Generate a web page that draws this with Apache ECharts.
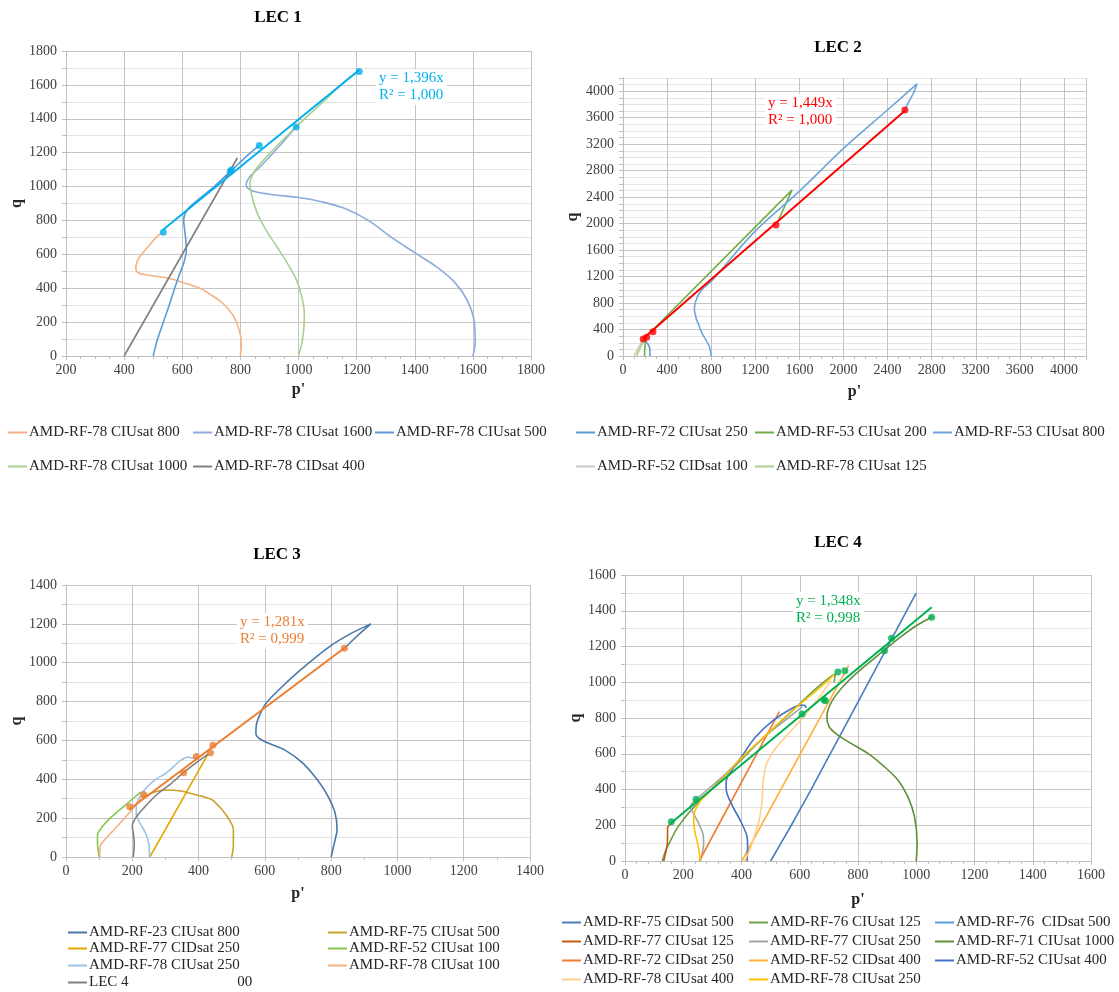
<!DOCTYPE html>
<html>
<head>
<meta charset="utf-8">
<script src="https://cdn.jsdelivr.net/npm/echarts@6/dist/echarts.min.js"></script>
<style>
html,body{margin:0;padding:0;background:#fff;width:1119px;height:992px;overflow:hidden}
.c{position:absolute;left:0;top:0;width:1119px;height:992px}
</style>
</head>
<body>
<div id="c1" class="c"></div>
<div id="c2" class="c"></div>
<div id="c3" class="c"></div>
<div id="c4" class="c"></div>
<script>
// ================= LEC 1 =================
const lec1Names = ['AMD-RF-78 CIUsat 800','AMD-RF-78 CIUsat 1600','AMD-RF-78 CIUsat 500','AMD-RF-78 CIUsat 1000','AMD-RF-78 CIDsat 400'];
const lec1_ciu800 = [[800,0],[803,80],[795,160],[775,240],[740,310],[700,360],[660,400],[610,430],[550,460],[490,475],[450,490],[440,520],[448,570],[463,606],[485,650],[513,705],[535,730]];
const lec1_ciu1600 = [[1600,0],[1608,80],[1605,200],[1580,330],[1540,430],[1480,520],[1400,610],[1320,700],[1240,800],[1160,870],[1080,910],[1000,935],[900,955],[840,975],[820,1010],[833,1059],[870,1120],[930,1230],[993,1354]];
const lec1_ciu500 = [[500,0],[515,100],[535,200],[555,300],[574,400],[590,480],[605,547],[614,626],[611,705],[605,803],[617,862],[660,930],[710,1000],[771,1098],[833,1197],[864,1242]];
const lec1_ciu1000 = [[1000,0],[1012,80],[1018,154],[1020,252],[1011,350],[993,449],[962,547],[925,646],[888,744],[858,843],[840,941],[833,1020],[845,1079],[870,1138],[913,1217],[981,1335],[1042,1433],[1104,1531],[1166,1630],[1202,1673]];
const lec1_cid400 = [[400,0],[790,1170]];
const lec1Peaks = [[535,730],[765,1089],[769,1098],[865,1242],[992,1352],[1209,1679]];
const lec1Trend = [[535,747],[1209,1688]];
const lec1Eq = 'y = 1,396x\nR² = 1,000';
const lec1XTicks = [200,400,600,800,1000,1200,1400,1600,1800];
const lec1YTicks = [0,200,400,600,800,1000,1200,1400,1600,1800];

// ================= LEC 2 =================
const lec2Names = ['AMD-RF-72 CIUsat 250','AMD-RF-53 CIUsat 200','AMD-RF-53 CIUsat 800','AMD-RF-52 CIDsat 100','AMD-RF-78 CIUsat 125'];
const lec2_72ciu250 = [[245,0],[244,80],[236,150],[215,205],[190,250]];
const lec2_53ciu200 = [[195,0],[197,100],[202,200],[210,290],[1534,2509],[1411,2055]];
const lec2_53ciu800 = [[800,0],[795,60],[782,150],[750,250],[721,330],[700,410],[685,482],[665,560],[655,634],[648,700],[652,780],[667,862],[690,940],[721,1014],[760,1070],[800,1125],[1194,1879],[1596,2484],[2003,3140],[2401,3720],[2667,4111],[2634,3970],[2586,3819],[2557,3718]];
const lec2_52cid100 = [[100,0],[183,250]];
const lec2_78ciu125 = [[125,0],[150,100],[175,190],[190,250]];
const lec2Peaks = [[183,258],[215,285],[272,368],[1388,1980],[2557,3718]];
const lec2Trend = [[183,265],[2557,3705]];
const lec2Eq = 'y = 1,449x\nR² = 1,000';
const lec2XTicks = [0,400,800,1200,1600,2000,2400,2800,3200,3600,4000];
const lec2YTicks = [0,400,800,1200,1600,2000,2400,2800,3200,3600,4000];

// ================= LEC 3 =================
const lec3Names = ['AMD-RF-23 CIUsat 800','AMD-RF-75 CIUsat 500','AMD-RF-77 CIDsat 250','AMD-RF-52 CIUsat 100','AMD-RF-78 CIUsat 250','AMD-RF-78 CIUsat 100','LEC 4                             00'];
const lec3_23ciu800 = [[800,0],[806,45],[812,89],[818,140],[812,225],[791,311],[759,396],[716,481],[662,549],[592,601],[573,635],[575,686],[586,737],[602,788],[640,857],[705,959],[791,1078],[856,1147],[920,1200],[880,1140],[841,1075]];
const lec3_75ciu500 = [[500,0],[505,60],[505,140],[486,210],[446,288],[420,307],[385,323],[346,340],[305,345],[275,338],[245,318],[228,305]];
const lec3_77cid250 = [[253,0],[430,535]];
const lec3_52ciu100 = [[100,0],[95,70],[95,113],[110,157],[140,210],[175,261],[205,305],[225,334]];
const lec3_78ciu250 = [[252,0],[250,70],[240,123],[223,175],[212,220],[212,260],[230,330],[265,392],[305,435],[345,496],[370,514],[383,508],[393,517]];
const lec3_78ciu100 = [[102,0],[103,55],[145,140],[190,225],[240,331]];
const lec3_lec4 = [[203,0],[206,70],[203,123],[200,157],[210,201],[235,253],[275,323],[315,375],[355,436],[395,488],[430,531]];
const lec3Peaks = [[840,1075],[443,575],[436,536],[393,517],[355,433],[234,322],[192,258]];
const lec3Trend = [[192,246],[840,1076]];
const lec3Eq = 'y = 1,281x\nR² = 0,999';
const lec3XTicks = [0,200,400,600,800,1000,1200,1400];
const lec3YTicks = [0,200,400,600,800,1000,1200,1400];

// ================= LEC 4 =================
const lec4Names = ['AMD-RF-75 CIDsat 500','AMD-RF-76 CIUsat 125','AMD-RF-76  CIDsat 500','AMD-RF-77 CIUsat 125','AMD-RF-77 CIUsat 250','AMD-RF-71 CIUsat 1000','AMD-RF-72 CIDsat 250','AMD-RF-52 CIDsat 400','AMD-RF-52 CIUsat 400','AMD-RF-78 CIUsat 400','AMD-RF-78 CIUsat 250'];
const lec4_75cid500 = [[500,0],[571,200],[638,397],[736,695],[999,1497]];
const lec4_76ciu125 = [[128,0],[140,60],[152,99],[175,173],[204,239],[238,304],[284,379],[364,509],[455,658],[547,798],[650,956],[706,1031],[722,1046],[718,1000]];
const lec4_76cid500 = [];
const lec4_77ciu125 = [[133,0],[144,80],[146,136],[146,183],[152,201],[164,220]];
const lec4_77ciu250 = [[259,0],[270,99],[267,155],[250,220],[232,276],[224,304],[245,345],[341,480],[398,575],[490,710],[560,800],[608,862]];
const lec4_71ciu1000 = [[1000,0],[1003,99],[994,248],[971,360],[937,453],[891,527],[834,602],[776,658],[730,705],[701,751],[693,807],[701,863],[724,928],[764,1003],[821,1087],[884,1171],[947,1254],[1004,1320],[1056,1366]];
const lec4_72cid250 = [[255,0],[530,835]];
const lec4_52cid400 = [[401,0],[768,1095]];
const lec4_52ciu400 = [[419,0],[421,80],[419,136],[398,220],[370,304],[350,379],[347,435],[352,471],[375,527],[400,583],[448,694],[509,787],[571,852],[605,872],[618,870],[622,855]];
const lec4_78ciu400 = [[410,0],[433,80],[450,173],[461,229],[470,330],[475,450],[485,540],[515,625],[560,710],[610,800],[660,900],[707,1010]];
const lec4_78ciu250 = [[259,0],[252,80],[241,155],[236,220],[238,267],[250,313],[267,351],[341,471],[398,574],[490,714],[570,835],[673,975],[718,1043]];
const lec4Peaks = [[159,219],[244,346],[608,822],[683,902],[688,896],[731,1057],[755,1065],[891,1176],[915,1246],[1053,1363]];
const lec4Trend = [[159,214],[1053,1419]];
const lec4Eq = 'y = 1,348x\nR² = 0,998';
const lec4XTicks = [0,200,400,600,800,1000,1200,1400,1600];
const lec4YTicks = [0,200,400,600,800,1000,1200,1400,1600];

// ================= styling / layout =================
const SERIF = '"Liberation Serif","Times New Roman",serif';
const panels = [
  {
    el:'c1', title:'LEC 1', titleX:278, titleY:9,
    grid:{left:66, top:51, width:465, height:305},
    xTicks:lec1XTicks, xMax:1800, xMinor:4, yTicks:lec1YTicks, yMax:1800, yStep:100, yLabelEvery:200,
    xNameGap:26, yNameGap:41,
    series:[
      {name:lec1Names[0], data:lec1_ciu800, color:'#F4B183', smooth:0.35},
      {name:lec1Names[1], data:lec1_ciu1600, color:'#8FAADC', smooth:0.35},
      {name:lec1Names[2], data:lec1_ciu500, color:'#5B9BD5', smooth:0.35},
      {name:lec1Names[3], data:lec1_ciu1000, color:'#A9D18E', smooth:0.35},
      {name:lec1Names[4], data:lec1_cid400, color:'#7F7F7F', smooth:0}
    ],
    peaks:lec1Peaks, trend:lec1Trend, accent:'#00B0F0', eq:lec1Eq, eqX:376, eqY:69,
    legend:{cols:[8,193,375], rows:[433,467], ncol:3}
  },
  {
    el:'c2', title:'LEC 2', titleX:838, titleY:39,
    grid:{left:623, top:78, width:463, height:278},
    xTicks:lec2XTicks, xMax:4200, xMinor:4, yTicks:lec2YTicks, yMax:4200, yStep:100, yLabelEvery:400,
    xNameGap:28, yNameGap:42,
    series:[
      {name:lec2Names[0], data:lec2_72ciu250, color:'#5B9BD5', smooth:0.35},
      {name:lec2Names[1], data:lec2_53ciu200, color:'#70AD47', smooth:0},
      {name:lec2Names[2], data:lec2_53ciu800, color:'#6FA5DA', smooth:0.3},
      {name:lec2Names[3], data:lec2_52cid100, color:'#C9C9C9', smooth:0},
      {name:lec2Names[4], data:lec2_78ciu125, color:'#A9D18E', smooth:0.3}
    ],
    peaks:lec2Peaks, trend:lec2Trend, accent:'#FF0000', eq:lec2Eq, eqX:765, eqY:94,
    legend:{cols:[576,755,933], rows:[433,467], ncol:3}
  },
  {
    el:'c3', title:'LEC 3', titleX:277, titleY:546,
    grid:{left:66, top:585, width:464, height:272},
    xTicks:lec3XTicks, xMax:1400, xMinor:2, yTicks:lec3YTicks, yMax:1400, yStep:100, yLabelEvery:200,
    xNameGap:29, yNameGap:41,
    series:[
      {name:lec3Names[0], data:lec3_23ciu800, color:'#4A78AA', smooth:0.3},
      {name:lec3Names[1], data:lec3_75ciu500, color:'#C9A227', smooth:0.3},
      {name:lec3Names[2], data:lec3_77cid250, color:'#E4A600', smooth:0},
      {name:lec3Names[3], data:lec3_52ciu100, color:'#86C84F', smooth:0.3},
      {name:lec3Names[4], data:lec3_78ciu250, color:'#9DC3E6', smooth:0.3},
      {name:lec3Names[5], data:lec3_78ciu100, color:'#F4B183', smooth:0.2},
      {name:lec3Names[6], data:lec3_lec4, color:'#7F7F7F', smooth:0.3}
    ],
    peaks:lec3Peaks, trend:lec3Trend, accent:'#ED7D31', eq:lec3Eq, eqX:237, eqY:613,
    legend:{cols:[68,328], rows:[933,949,966,983], ncol:2}
  },
  {
    el:'c4', title:'LEC 4', titleX:838, titleY:534,
    grid:{left:625, top:575, width:466, height:286},
    xTicks:lec4XTicks, xMax:1600, xMinor:5, yTicks:lec4YTicks, yMax:1600, yStep:100, yLabelEvery:200,
    xNameGap:31, yNameGap:40,
    series:[
      {name:lec4Names[0], data:lec4_75cid500, color:'#4A7CC0', smooth:0.2},
      {name:lec4Names[1], data:lec4_76ciu125, color:'#6E9E45', smooth:0.3},
      {name:lec4Names[2], data:lec4_76cid500, color:'#5B9BD5', smooth:0},
      {name:lec4Names[3], data:lec4_77ciu125, color:'#C55A11', smooth:0.2},
      {name:lec4Names[4], data:lec4_77ciu250, color:'#A5A5A5', smooth:0.3},
      {name:lec4Names[5], data:lec4_71ciu1000, color:'#5E8F3A', smooth:0.3},
      {name:lec4Names[6], data:lec4_72cid250, color:'#ED7D31', smooth:0},
      {name:lec4Names[7], data:lec4_52cid400, color:'#FFB13B', smooth:0},
      {name:lec4Names[8], data:lec4_52ciu400, color:'#4472C4', smooth:0.3},
      {name:lec4Names[9], data:lec4_78ciu400, color:'#FFD08A', smooth:0.3},
      {name:lec4Names[10], data:lec4_78ciu250, color:'#FFC000', smooth:0.3}
    ],
    peaks:lec4Peaks, trend:lec4Trend, accent:'#00B050', eq:lec4Eq, eqX:793, eqY:592,
    legend:{cols:[562,749,935], rows:[923,942,961,980], ncol:3}
  }
];

const MAJOR = '#c4c4c4', MINOR = '#e4e4e4', AXIS = '#bfbfbf', LABEL = '#404040';

function buildOption(p) {
  const xMin = p.xTicks[0], xStep = p.xTicks[1] - p.xTicks[0], xLast = p.xTicks[p.xTicks.length-1];
  const yMin = p.yTicks[0], yLast = p.yTicks[p.yTicks.length-1];
  const ratio = p.yLabelEvery / p.yStep;
  const yColors = [MAJOR];
  for (let i = 1; i < ratio; i++) yColors.push(MINOR);

  const series = p.series.map(s => ({
    type:'line', name:s.name, data:s.data, symbol:'none', showSymbol:false,
    smooth:s.smooth, lineStyle:{color:s.color, width:1.6}, itemStyle:{color:s.color},
    z:2, silent:true, clip:true
  }));
  series.push({type:'line', name:'_trend', data:p.trend, symbol:'none', showSymbol:false,
    lineStyle:{color:p.accent, width:2}, itemStyle:{color:p.accent}, z:3, silent:true});
  series.push({type:'scatter', name:'_peaks', data:p.peaks, symbol:'circle', symbolSize:7,
    itemStyle:{color:p.accent}, z:4, silent:true});

  const legends = p.series.map((s, i) => ({
    data:[s.name], selectedMode:false, padding:0,
    left:p.legend.cols[i % p.legend.ncol],
    top:p.legend.rows[Math.floor(i / p.legend.ncol)] - 8,
    icon:'rect', itemWidth:19, itemHeight:2, itemGap:0,
    textStyle:{fontFamily:SERIF, fontSize:15, color:'#262626', padding:[0,0,0,-3]}
  }));

  return {
    animation:false,
    backgroundColor:'transparent',
    grid:Object.assign({containLabel:false}, p.grid),
    legend:legends,
    xAxis:{
      type:'value', min:xMin, max:p.xMax, interval:xStep,
      name:"p'", nameLocation:'middle', nameGap:p.xNameGap,
      nameTextStyle:{fontFamily:SERIF, fontWeight:'bold', fontSize:16, color:'#262626'},
      axisLine:{show:true, onZero:false, lineStyle:{color:AXIS}},
      axisTick:{show:true, length:4, lineStyle:{color:AXIS}},
      minorTick:{show:true, splitNumber:p.xMinor, length:3, lineStyle:{color:AXIS}},
      axisLabel:{fontFamily:SERIF, fontSize:14, color:LABEL, margin:7,
        formatter:v => (v <= xLast && (v - xMin) % xStep === 0) ? String(v) : ''},
      splitLine:{show:true, lineStyle:{color:MAJOR, width:1}},
      minorSplitLine:{show:false}
    },
    yAxis:{
      type:'value', min:yMin, max:p.yMax, interval:p.yStep,
      name:'q', nameLocation:'middle', nameGap:p.yNameGap,
      nameTextStyle:{fontFamily:SERIF, fontWeight:'bold', fontSize:16, color:'#262626'},
      axisLine:{show:true, lineStyle:{color:AXIS}},
      axisTick:{show:true, length:4, lineStyle:{color:AXIS}},
      axisLabel:{fontFamily:SERIF, fontSize:14, color:LABEL, margin:9, showMaxLabel:true,
        formatter:v => (v <= yLast && (v - yMin) % p.yLabelEvery === 0) ? String(v) : ''},
      splitLine:{show:true, lineStyle:{color:yColors, width:1}}
    },
    graphic:[
      {type:'text', x:p.titleX, y:p.titleY, silent:true,
        style:{text:p.title, fill:'#000', font:'bold 17px ' + SERIF, textAlign:'center', textVerticalAlign:'top'}},
      {type:'text', x:p.eqX, y:p.eqY, z:100, silent:true,
        style:{text:p.eq, fill:p.accent, font:'15px ' + SERIF, lineHeight:17, backgroundColor:'#ffffff', padding:[1,3,1,3], textVerticalAlign:'top'}}
    ],
    series:series
  };
}

panels.forEach(p => {
  const chart = echarts.init(document.getElementById(p.el), null, {renderer:'canvas', width:1119, height:992});
  chart.setOption(buildOption(p));
});
</script>
</body>
</html>
